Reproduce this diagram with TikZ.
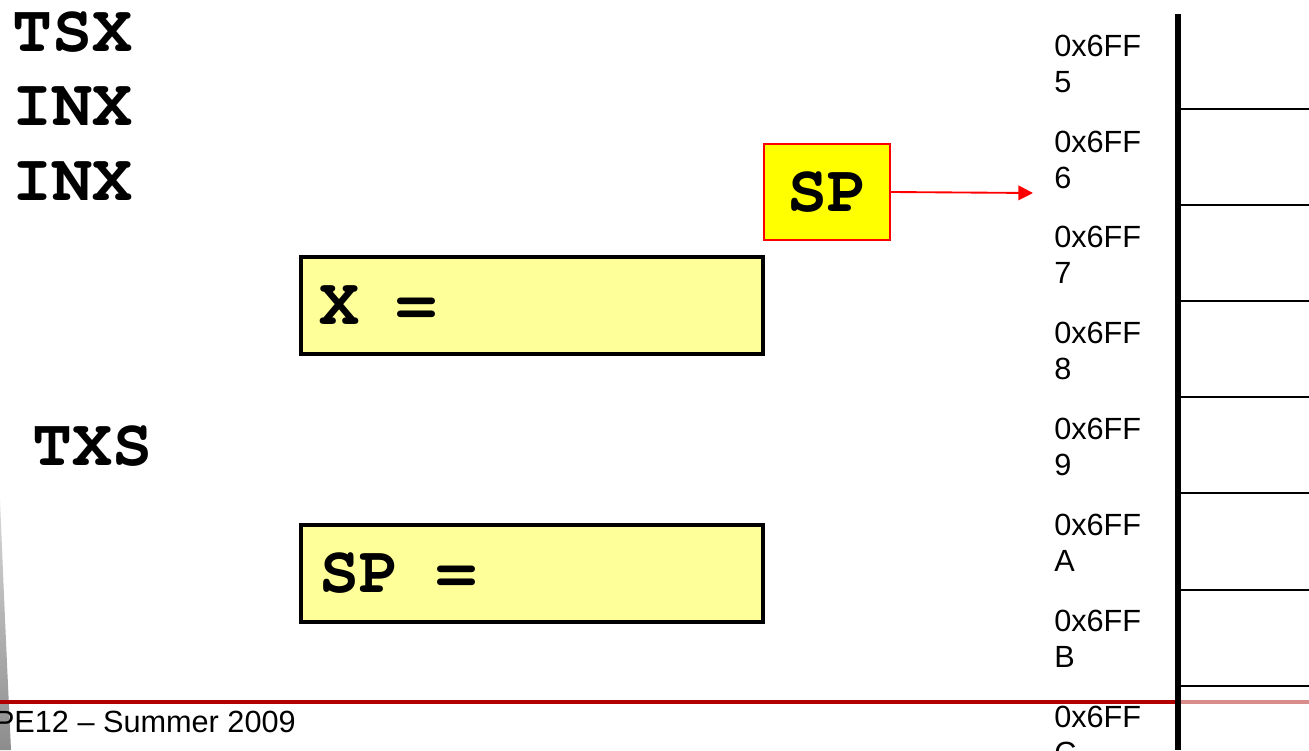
\documentclass[tikz,border=0pt]{standalone}
\usepackage{fontspec}
\setmainfont{Liberation Sans}
\newfontfamily\codefont{texgyrecursor-bold.otf}
\usetikzlibrary{arrows.meta}
\definecolor{boxyellow}{HTML}{FFFF99}
\definecolor{ptryellow}{HTML}{FFFF00}
\definecolor{footred}{HTML}{B00000}
\definecolor{footpink}{HTML}{D98C8C}
\begin{document}
\begin{tikzpicture}[x=0.75pt,y=-0.75pt,
  codefontsize/.style={font={\codefont\fontsize{50}{60}\selectfont}},
  code/.style={codefontsize, inner sep=0, anchor=base west},
  regbox/.style={draw=black, line width=3pt, fill=boxyellow, anchor=north west,
    text width=319.5pt, inner xsep=13.5pt, inner ysep=0pt, minimum height=72.75pt, align=left,
    codefontsize, execute at begin node={\spaceskip=28pt\relax}},
  ptrbox/.style={draw=red, line width=1.5pt, fill=ptryellow, anchor=north west,
    minimum width=94.5pt, minimum height=72pt, inner sep=0pt, codefontsize},
  addr/.style={anchor=north west, align=left, inner sep=0pt, font=\fontsize{23}{27}\selectfont},
  cellline/.style={line width=1.5pt, black},
  ptrarrow/.style={red, line width=1.4pt, -{Triangle[length=11pt,width=11pt]}}
]
\useasboundingbox (0,0) rectangle (1309,750);
\clip (0,0) rectangle (1309,750);

% grey slide decoration at the lower left
\shade[top color=gray!30, bottom color=gray!90]
  (0,500) .. controls (5,620) .. (11,750) -- (0,750) -- cycle;

% instruction sequence
\node[code] (tsx)  at (12,51)  {TSX};
\node[code] (inx1) at (12,125) {INX};
\node[code] (inx2) at (12,200) {INX};
\node[code] (txs)  at (32,465) {TXS};

% register boxes
\node[regbox] (xreg)  at (299,255) {X =};
\node[regbox] (spreg) at (299,523) {SP =};

% stack pointer and its arrow
\node[ptrbox] (spptr) at (763,143) {SP};
\coordinate (sptgt) at (1033,193);
\draw[ptrarrow] (spptr.east) -- (sptgt);

% memory addresses
\foreach \lbl [count=\i from 0] in {5,6,7,8,9,A,B,C}
  \node[addr] (addr\i) at (1054,34.5+95.9*\i) {0x6FF\\\lbl};

% memory cells
\foreach \i in {0,...,6}
  \draw[cellline] (1181,109+96.1*\i) -- (1309,109+96.1*\i);

% footer rule
\draw[footred, line width=2.4pt] (0,702) -- (1178,702);
\draw[footpink, line width=2.4pt] (1178,702) -- (1309,702);

% memory column edge
\draw[line width=4.5pt] (1178,14) -- (1178,750);

% footer text
\node[anchor=base east, inner sep=0pt, font=\fontsize{23}{27}\selectfont] (footer) at (296,732)
  {PE12 \textendash{} Summer 2009};
\end{tikzpicture}
\end{document}
